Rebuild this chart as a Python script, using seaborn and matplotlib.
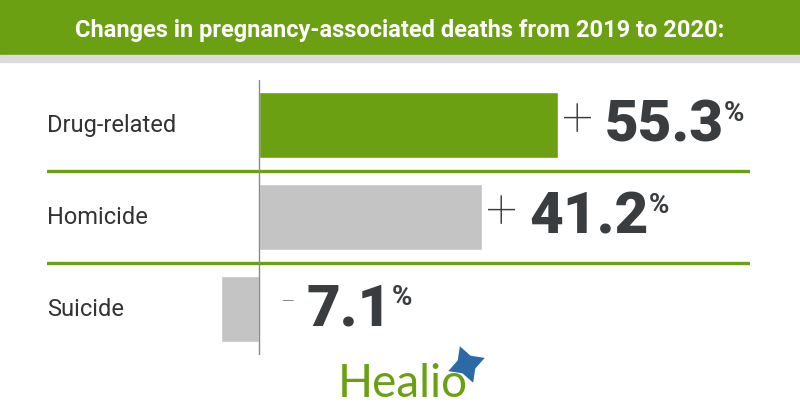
import matplotlib
matplotlib.use("Agg")
import matplotlib.pyplot as plt
import matplotlib.transforms as mtransforms
from matplotlib.patches import Rectangle
import seaborn as sns
import pandas as pd

# Data
categories = ["Drug-related", "Homicide", "Suicide"]
changes = [55.3, 41.2, -7.1]
bar_colors = ["#6aa011", "#c4c4c4", "#c4c4c4"]
title = "Changes in pregnancy-associated deaths from 2019 to 2020:"

GREEN = "#6aa011"
DARK = "#3a3d3f"

sns.set_theme(style="white")
plt.rcParams["font.family"] = ["Roboto", "DejaVu Sans"]

W, H = 800, 420
fig = plt.figure(figsize=(8, 4.2), dpi=100, facecolor="white")

# Header banner
fig.patches.append(Rectangle((0, 1 - 55 / H), 1, 55 / H, transform=fig.transFigure,
                             color=GREEN, zorder=0))
fig.patches.append(Rectangle((0, 1 - 62 / H), 1, 7 / H, transform=fig.transFigure,
                             color="#dcdcdc", zorder=0))
fig.text(0.5, 1 - 30 / H, title, color="white", fontsize=17, fontweight="bold",
         ha="center", va="center")

# Main axes: x from 47px to 750px, y from 80px to 355px
ax = fig.add_axes([47 / W, 1 - 355 / H, (750 - 47) / W, (355 - 80) / H])
df = pd.DataFrame({"category": categories, "change": changes})
sns.barplot(data=df, y="category", x="change", hue="category", palette=bar_colors,
            orient="h", width=0.72, legend=False, ax=ax, saturation=1)

px_per_unit = 299 / 55.3
ax.set_xlim(-(259 - 47) / px_per_unit, (750 - 259) / px_per_unit)
ax.set_ylim(2.5, -0.49)
ax.axis("off")

# zero line and separators
ax.axvline(0, color="#8a8a8a", lw=1, zorder=3)
for yy in [0.5, 1.5]:
    ax.axhline(yy, color=GREEN, lw=2.4, zorder=2)

# category labels
trans = mtransforms.blended_transform_factory(ax.transAxes, ax.transData)
for i, cat in enumerate(categories):
    ax.text(0, i, cat, transform=trans, ha="left", va="center", fontsize=17,
            color="#333333")

# value labels: sign, number, superscript percent
for i, val in enumerate(changes):
    anchor = max(val, 0)
    if val > 0:
        ax.annotate("+", xy=(anchor, i), xytext=(3, 3), textcoords="offset points",
                    ha="left", va="center", fontsize=40, fontweight="light",
                    color=DARK)
    else:
        ax.annotate("\u2013", xy=(anchor, i), xytext=(15, 4),
                    textcoords="offset points", ha="left", va="center",
                    fontsize=16, fontweight="light", color=DARK)
    num = ax.annotate(f"{abs(val):.1f}", xy=(anchor, i), xytext=(34, -1),
                      textcoords="offset points", ha="left", va="center",
                      fontsize=42, fontweight="black", color=DARK)
    ax.annotate("%", xy=(1, 1), xycoords=num, xytext=(0, -1),
                textcoords="offset points", ha="left", va="top",
                fontsize=20, fontweight="bold", color=DARK)

# Healio logo
fig.text(338 / W, 1 - 384 / H, "Healio", color=GREEN, fontsize=33,
         family=["Lato", "DejaVu Sans"], ha="left", va="center")
fig.lines.append(plt.Line2D([466 / W], [1 - 364 / H], transform=fig.transFigure,
                            marker=(4, 1, 20), markersize=30, color="#2b6aa6",
                            markeredgecolor="white", markeredgewidth=1))

fig.savefig("out.png", dpi=100, facecolor="white")
